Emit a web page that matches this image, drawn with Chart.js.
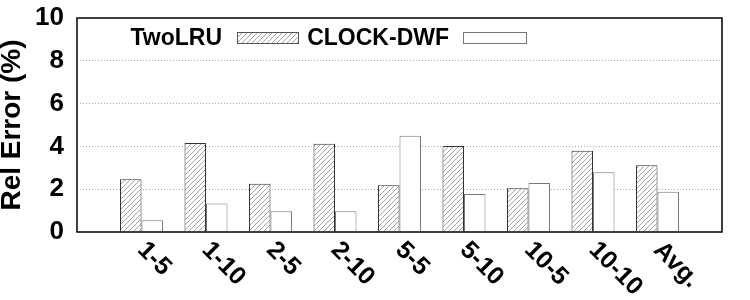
<!DOCTYPE html>
<html>
<head>
<meta charset="utf-8">
<script src="https://cdn.jsdelivr.net/npm/chart.js@4.4.1/dist/chart.umd.min.js"></script>
<style>
  html, body { margin: 0; padding: 0; background: #fff; }
  #wrap { width: 750px; height: 300px; position: relative; }
</style>
</head>
<body>
<div id="wrap"><canvas id="relErrChart"></canvas></div>
<script>
const categories = ['1-5', '1-10', '2-5', '2-10', '5-5', '5-10', '10-5', '10-10', 'Avg.'];
const twoLRU = [2.47, 4.16, 2.25, 4.12, 2.19, 4.02, 2.05, 3.8, 3.12];
const clockDWF = [0.55, 1.33, 0.97, 0.97, 4.5, 1.77, 2.29, 2.79, 1.88];
const yTicks = [0, 2, 4, 6, 8, 10];
const seriesNames = ['TwoLRU', 'CLOCK-DWF'];

const FONT = '"Liberation Sans", Arial, sans-serif';

// diagonal hatch like gnuplot's pattern fill
function makeHatch() {
  const c = document.createElement('canvas');
  c.width = 5; c.height = 5;
  const g = c.getContext('2d');
  g.fillStyle = '#fff';
  g.fillRect(0, 0, 5, 5);
  g.strokeStyle = '#8a8a8a';
  g.lineWidth = 0.8;
  g.beginPath();
  g.moveTo(-1, 6); g.lineTo(6, -1);
  g.moveTo(-1, 1); g.lineTo(1, -1);
  g.moveTo(4, 6); g.lineTo(6, 4);
  g.stroke();
  return g.createPattern(c, 'repeat');
}
const hatch = makeHatch();

// one empty slot on each side, like the original x range
const labels = ['', ...categories, ''];
const pad = arr => [null, ...arr, null];

const framePlugin = {
  id: 'frame',
  afterDatasetsDraw(chart) {
    const { ctx, chartArea: a, scales } = chart;
    ctx.save();
    ctx.strokeStyle = '#000';
    ctx.lineWidth = 1.5;
    ctx.strokeRect(a.left, a.top, a.right - a.left, a.bottom - a.top);

    // rotated category labels
    ctx.fillStyle = '#000';
    ctx.font = 'bold 25px ' + FONT;
    ctx.textAlign = 'left';
    ctx.textBaseline = 'alphabetic';
    categories.forEach((lab, i) => {
      const x = scales.x.getPixelForValue(i + 1);
      ctx.save();
      ctx.translate(x - 5, a.bottom + 19);
      ctx.rotate(Math.PI / 4);
      ctx.fillText(lab, 0, 0);
      ctx.restore();
    });

    // key: text then sample box
    ctx.font = 'bold 23px ' + FONT;
    ctx.textAlign = 'right';
    const key = [
      { textX: 222, boxX: 237, boxW: 61, fill: hatch, stroke: '#555' },
      { textX: 449, boxX: 463, boxW: 63, fill: '#fff', stroke: '#777' },
    ];
    key.forEach((k, i) => {
      ctx.fillStyle = '#000';
      ctx.fillText(seriesNames[i], k.textX, 45);
      ctx.fillStyle = k.fill;
      ctx.fillRect(k.boxX, 32, k.boxW, 11);
      ctx.strokeStyle = k.stroke;
      ctx.lineWidth = 1;
      ctx.strokeRect(k.boxX + 0.5, 32.5, k.boxW, 11);
    });
    ctx.restore();
  },
};

new Chart(document.getElementById('relErrChart'), {
  type: 'bar',
  data: {
    labels: labels,
    datasets: [
      {
        label: seriesNames[0],
        data: pad(twoLRU),
        backgroundColor: hatch,
        borderColor: '#333',
        borderWidth: 1,
      },
      {
        label: seriesNames[1],
        data: pad(clockDWF),
        backgroundColor: '#fff',
        borderColor: '#777',
        borderWidth: 1,
      },
    ],
  },
  options: {
    responsive: true,
    maintainAspectRatio: false,
    animation: false,
    devicePixelRatio: 1,
    categoryPercentage: 0.667,
    barPercentage: 1,
    layout: { padding: { top: 18, right: 28, bottom: 68, left: 0 } },
    plugins: { legend: { display: false }, tooltip: { enabled: false } },
    scales: {
      x: {
        type: 'category',
        offset: false,
        grid: { display: false },
        border: { display: false },
        ticks: { display: false },
        afterFit: s => { s.height = 0; },
      },
      y: {
        min: 0,
        max: 10,
        afterBuildTicks: s => { s.ticks = yTicks.map(v => ({ value: v })); },
        afterFit: s => { s.width = 77; s.paddingTop = 0; s.paddingBottom = 0; },
        border: { display: false, dash: [1, 2] },
        grid: {
          drawTicks: false,
          color: c => (c.tick && (c.tick.value === 0 || c.tick.value === 10)) ? 'rgba(0,0,0,0)' : '#a8a8a8',
          lineWidth: 1,
        },
        ticks: {
          color: '#000',
          padding: 13,
          font: { family: FONT, size: 26, weight: 'bold' },
        },
        title: {
          display: true,
          text: 'Rel Error (%)',
          color: '#000',
          padding: { top: -2, bottom: 0 },
          font: { family: FONT, size: 28, weight: 'bold', lineHeight: 1 },
        },
      },
    },
  },
  plugins: [framePlugin],
});
</script>
</body>
</html>
